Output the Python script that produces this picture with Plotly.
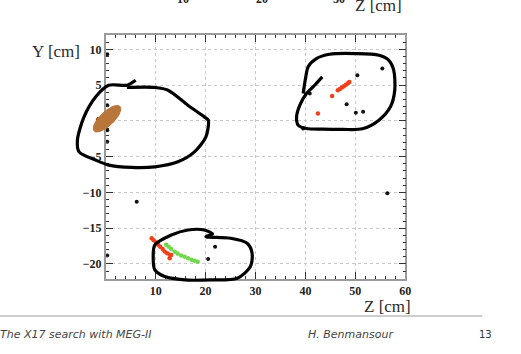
import numpy as np
import plotly.graph_objects as go

# ---------------- data (Z, Y in cm) ----------------
black_z = [55.4, 50.4, 48.25, 50.1, 51.55, 40.86, 39.54, 6.2, 21.9, 20.5, 56.4, 0.3, 0.3, 0.3, 0.3, 0.3]
black_y = [7.31, 6.38, 2.33, 1.12, 1.26, 3.82, -1.06, -11.3, -17.6, -19.3, -10.1, 2.19, -1.3, -2.93, 9.3, -18.8]

red_z = [42.5, 45.35, 46.5, 46.9, 47.3, 47.7, 48.1, 48.5, 48.8,
         9.2, 9.6, 10.1, 10.5, 10.9, 11.4, 11.8, 12.3, 12.8, 13.1, 12.8]
red_y = [1.03, 3.49, 4.28, 4.45, 4.65, 4.85, 5.05, 5.25, 5.44,
         -16.4, -16.7, -17.0, -17.3, -17.6, -17.9, -18.25, -18.5, -18.7, -18.75, -19.2]

green_z = [12.1, 12.6, 13.1, 13.8, 14.4, 15.1, 15.8, 16.5, 17.2, 17.8, 18.4]
green_y = [-17.3, -17.6, -17.9, -18.3, -18.55, -18.8, -19.0, -19.2, -19.4, -19.55, -19.7]

# hand-drawn loops (data coordinates)
loop1_z = [6.0, 4.22, 0.59, -2.04, -4.36, -5.68, -5.35, -2.04, 0.59, 5.21, 9.84, 14.46, 17.76, 20.06,
           20.53, 19.74, 16.44, 12.48, 9.84, 4.22]
loop1_y = [5.68, 4.98, 4.98, 3.35, 0.56, -2.69, -4.33, -5.48, -6.18, -6.5, -6.42, -5.72, -4.33, -2.23,
           0.1, 0.56, 2.19, 4.28, 4.66, 4.66]
loop2_z = [43.37, 41.85, 40.2, 38.88, 38.22, 38.55, 40.2, 43.5, 47.46, 51.42, 54.72, 57.03, 57.89,
           57.69, 56.7, 54.72, 50.1, 44.82, 42.18, 40.53, 40.07, 39.54]
loop2_y = [6.14, 4.98, 3.82, 2.19, 0.56, -0.6, -1.06, -1.16, -1.2, -1.11, 0.1, 1.96, 4.28,
           7.07, 8.47, 9.17, 9.4, 9.31, 8.7, 7.54, 6.14, 3.82]
loop3_z = [9.83, 13.14, 16.44, 19.74, 21.39, 20.07, 25.02, 28.32, 29.31, 28.98, 26.34, 21.06, 15.78,
           11.82, 9.83, 9.5, 9.83]
loop3_y = [-17.34, -15.95, -15.25, -15.25, -15.81, -16.18, -16.41, -17.11, -18.51, -20.37, -22.0,
           -22.23, -22.23, -21.76, -20.83, -18.97, -17.34]

x_ticks = [10, 20, 30, 40, 50, 60]
y_ticks = [10, 5, 0, -5, -10, -15, -20]
y_ticktext = ["10", "5", "0", "\u22125", "\u221210", "\u221215", "\u221220"]

# ---------------- layout geometry ----------------
W, H = 521, 354
px_l, px_r, px_t, px_b = 107, 410, 35, 279
xr = [0, 60]
yr = [-22.1, 12.0]
sx = (px_r - px_l) / (xr[1] - xr[0])
sy = (px_b - px_t) / (yr[1] - yr[0])
x2r = [xr[0] - px_l / sx, xr[1] + (W - px_r) / sx]
y2r = [yr[0] - (H - px_b) / sy, yr[1] + px_t / sy]

# brown ellipse (highlight blob) around the origin
t = np.linspace(0, 2 * np.pi, 60)
ang = np.deg2rad(43)
a_px, b_px = 18, 7
ex_px = a_px * np.cos(t) * np.cos(ang) - b_px * np.sin(t) * np.sin(ang)
ey_px = a_px * np.cos(t) * np.sin(ang) + b_px * np.sin(t) * np.cos(ang)
ell_z = 0.25 + ex_px / sx
ell_y = 0.3 + ey_px / sy

fig = go.Figure()
fig.add_trace(go.Scatter(x=black_z, y=black_y, mode="markers",
                         marker=dict(color="#111111", size=4), cliponaxis=False, showlegend=False))
fig.add_trace(go.Scatter(x=red_z, y=red_y, mode="markers",
                         marker=dict(color="#f0401c", size=4.5), cliponaxis=False, showlegend=False))
fig.add_trace(go.Scatter(x=green_z, y=green_y, mode="markers",
                         marker=dict(color="#72d64e", size=4.5), cliponaxis=False, showlegend=False))

# overlay traces on full-figure axes
fig.add_trace(go.Scatter(x=ell_z, y=ell_y, mode="lines", fill="toself", fillcolor="#b8763a",
                         line=dict(color="#b8763a", width=1), xaxis="x2", yaxis="y2", showlegend=False))
for lz, ly in [(loop1_z, loop1_y), (loop2_z, loop2_y), (loop3_z, loop3_y)]:
    fig.add_trace(go.Scatter(x=lz, y=ly, mode="lines", line=dict(color="black", width=3.2, shape="spline", smoothing=0.8),
                             xaxis="x2", yaxis="y2", showlegend=False))

tickfont = dict(family="Liberation Serif", size=12, color="#222222")
fig.update_layout(
    width=W, height=H, margin=dict(l=0, r=0, t=0, b=0),
    paper_bgcolor="white", plot_bgcolor="rgba(0,0,0,0)",
    xaxis=dict(domain=[px_l / W, px_r / W], range=xr, tickvals=x_ticks,
               ticktext=["<b>%d</b>" % v for v in x_ticks],
               ticks="inside", ticklen=7, tickcolor="#333", tickwidth=1,
               minor=dict(dtick=2, tick0=0, ticks="inside", ticklen=3, tickcolor="#333", showgrid=False),
               showline=True, linecolor="#9a9a9a", linewidth=1.5, mirror="ticks",
               showgrid=True, gridcolor="#c8c8c8", griddash="dot", gridwidth=1,
               zeroline=False, tickfont=tickfont, anchor="y"),
    yaxis=dict(domain=[1 - px_b / H, 1 - px_t / H], range=yr, tickvals=y_ticks,
               ticktext=["<b>%s</b>" % s for s in y_ticktext],
               ticks="inside", ticklen=7, tickcolor="#333", tickwidth=1,
               minor=dict(dtick=1, tick0=0, ticks="inside", ticklen=3, tickcolor="#333", showgrid=False),
               showline=True, linecolor="#9a9a9a", linewidth=1.5, mirror="ticks",
               showgrid=True, gridcolor="#c8c8c8", griddash="dot", gridwidth=1,
               zeroline=False, tickfont=tickfont, ticklabelstandoff=0, anchor="x"),
    xaxis2=dict(domain=[0, 1], range=x2r, visible=False, anchor="y2"),
    yaxis2=dict(domain=[0, 1], range=y2r, visible=False, anchor="x2"),
)

def ann(text, x, y, size, color="#222", family="Liberation Serif", xanchor="center", italic=False, bold=False):
    if italic:
        text = "<i>" + text + "</i>"
    if bold:
        text = "<b>" + text + "</b>"
    fig.add_annotation(text=text, x=x / W, y=1 - y / H, xref="paper", yref="paper", showarrow=False,
                       xanchor=xanchor, yanchor="middle", font=dict(family=family, size=size, color=color))

ann("Y [cm]", 57, 51, 17, color="#2b2b2b")
ann("Z [cm]", 392, 306, 17, color="#2b2b2b")
# cut-off labels of the previous plot at the top
ann("10", 185, -1, 12, bold=True)
ann("20", 265, -1, 12, bold=True)
ann("30", 343, -1, 12, bold=True)
ann("Z [cm]", 383, 6, 17, color="#2b2b2b")

# slide footer
fig.add_shape(type="line", x0=0, x1=488 / W, y0=1 - 316 / H, y1=1 - 316 / H, xref="paper", yref="paper",
              line=dict(color="#9a9a9a", width=1))
ann("The X17 search with MEG-II", -2, 334, 11, color="#444", family="DejaVu Sans", xanchor="left", italic=True)
ann("H. Benmansour", 310, 334, 11, color="#444", family="DejaVu Sans", xanchor="left", italic=True)
ann("13", 491, 334, 10, color="#333", family="DejaVu Sans")

fig.write_html("out.html")
